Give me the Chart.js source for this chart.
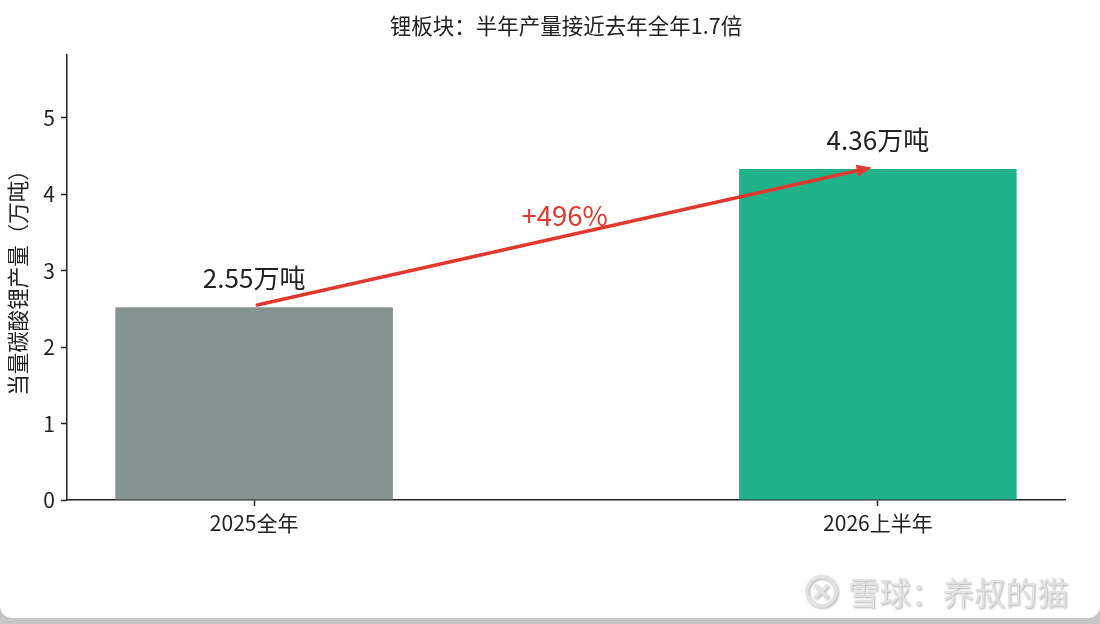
<!DOCTYPE html>
<html lang="zh-CN">
<head>
<meta charset="utf-8">
<title>锂板块产量</title>
<script src="https://cdn.jsdelivr.net/npm/chart.js@4.4.1/dist/chart.umd.min.js"></script>
<style>
  html, body { margin: 0; padding: 0; background: #c6c6c6; }
  #wrap {
    position: relative;
    width: 1100px;
    height: 618px;
    background: #ffffff;
    border-radius: 0 0 12px 12px;
    overflow: hidden;
  }
  #watermark {
    position: absolute;
    left: 804px;
    top: 569px;
    font-family: 'Noto Sans CJK SC', sans-serif;
    font-size: 31.5px;
    line-height: 44px;
    color: #e2e2e2;
    text-shadow: 1px 1px 2px rgba(0, 0, 0, 0.3);
    white-space: nowrap;
    display: flex;
    align-items: center;
  }
  #watermark svg { margin-right: 9px; filter: drop-shadow(1px 1px 1px rgba(0,0,0,0.3)); }
</style>
</head>
<body>
<div id="wrap">
  <canvas id="chart" width="1100" height="618"></canvas>
  <div id="watermark">
    <svg width="35" height="35" viewBox="0 0 35 35">
      <circle cx="17.5" cy="17.5" r="14.5" fill="none" stroke="#e2e2e2" stroke-width="3.5"/>
      <path d="M11 11 L24 24 M24 11 L11 24" stroke="#e2e2e2" stroke-width="3.5" fill="none"/>
    </svg>
    <span>雪球：养叔的猫</span>
  </div>
</div>
<script>
const categories = ['2025全年', '2026上半年'];
const values = [2.52, 4.33];
const valueLabels = ['2.55万吨', '4.36万吨'];
const barColors = ['#839491', '#20b28b'];
const yTicks = [0, 1, 2, 3, 4, 5];
const chartTitle = '锂板块：半年产量接近去年全年1.7倍';
const growthText = '+496%';

// annotation anchors in data units
const arrowFrom = { x: 0.005, y: 2.55 };
const arrowTo = { x: 0.99, y: 4.35 };
const growthAt = { x: 0.498, y: 3.72 };
const labelLift = 0.38;

const FONT = "'Noto Sans CJK SC', 'Noto Sans', sans-serif";
const INK = '#222222';
const RED = '#e03a30';

const annotationPlugin = {
  id: 'annotations',
  afterDatasetsDraw(chart) {
    const { ctx, chartArea, scales: { x, y } } = chart;
    ctx.save();
    ctx.textAlign = 'center';
    ctx.textBaseline = 'middle';

    // title, centred over the plot area
    ctx.fillStyle = INK;
    ctx.font = `21.5px ${FONT}`;
    ctx.fillText(chartTitle, (chartArea.left + chartArea.right) / 2, 26);

    // value labels above bars
    ctx.font = `26px ${FONT}`;
    values.forEach((v, i) => {
      ctx.fillText(valueLabels[i], x.getPixelForValue(i), y.getPixelForValue(v + labelLift));
    });

    // arrow
    const x0 = x.getPixelForValue(arrowFrom.x), y0 = y.getPixelForValue(arrowFrom.y);
    const x1 = x.getPixelForValue(arrowTo.x), y1 = y.getPixelForValue(arrowTo.y);
    const ang = Math.atan2(y1 - y0, x1 - x0);
    const headLen = 15, headW = 6;
    ctx.strokeStyle = RED;
    ctx.fillStyle = RED;
    ctx.lineWidth = 3.5;
    ctx.lineCap = 'round';
    ctx.beginPath();
    ctx.moveTo(x0, y0);
    ctx.lineTo(x1 - Math.cos(ang) * headLen * 0.7, y1 - Math.sin(ang) * headLen * 0.7);
    ctx.stroke();
    ctx.beginPath();
    ctx.moveTo(x1, y1);
    ctx.lineTo(x1 - Math.cos(ang) * headLen + Math.sin(ang) * headW,
               y1 - Math.sin(ang) * headLen - Math.cos(ang) * headW);
    ctx.lineTo(x1 - Math.cos(ang) * headLen - Math.sin(ang) * headW,
               y1 - Math.sin(ang) * headLen + Math.cos(ang) * headW);
    ctx.closePath();
    ctx.fill();

    // growth text
    ctx.font = `27.5px ${FONT}`;
    ctx.fillText(growthText, x.getPixelForValue(growthAt.x), y.getPixelForValue(growthAt.y));
    ctx.restore();
  }
};

new Chart(document.getElementById('chart'), {
  type: 'bar',
  data: {
    datasets: [{
      data: values.map((v, i) => ({ x: i, y: v })),
      backgroundColor: barColors,
      borderWidth: 0,
      categoryPercentage: 1,
      barPercentage: 0.445
    }]
  },
  options: {
    responsive: false,
    animation: false,
    layout: { padding: { left: 0, right: 35, top: 55, bottom: 0 } },
    plugins: {
      legend: { display: false },
      tooltip: { enabled: false },
      title: { display: false }
    },
    scales: {
      x: {
        type: 'linear',
        min: -0.3,
        max: 1.3,
        offset: false,
        afterBuildTicks: (scale) => { scale.ticks = categories.map((c, i) => ({ value: i })); },
        afterFit: (scale) => { scale.height = 118; },
        ticks: {
          color: INK,
          font: { family: FONT, size: 21 },
          padding: 4,
          maxRotation: 0,
          callback: (v) => categories[v]
        },
        grid: { offset: false, drawOnChartArea: false, drawTicks: true, tickLength: 6, tickColor: INK, tickWidth: 1.5 },
        border: { color: INK, width: 1.5 }
      },
      y: {
        min: 0,
        max: 5.82,
        afterBuildTicks: (scale) => { scale.ticks = yTicks.map(v => ({ value: v })); },
        afterFit: (scale) => { scale.width = 67; },
        ticks: {
          color: INK,
          font: { family: FONT, size: 21 },
          padding: 6,
          includeBounds: false
        },
        title: {
          display: true,
          text: '当量碳酸锂产量（万吨）',
          color: INK,
          font: { family: FONT, size: 21.5 },
          padding: { top: 5, bottom: 0 }
        },
        grid: { drawOnChartArea: false, drawTicks: true, tickLength: 6, tickColor: INK, tickWidth: 1.5 },
        border: { color: INK, width: 1.5 }
      }
    }
  },
  plugins: [annotationPlugin]
});
</script>
</body>
</html>
